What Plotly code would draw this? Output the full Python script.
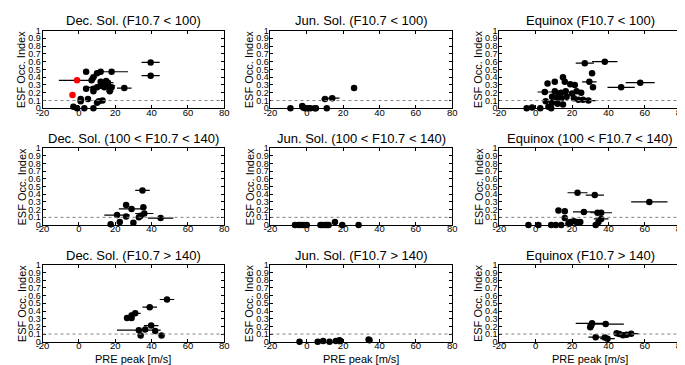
import plotly.graph_objects as go

# ---------------- data (PRE peak [m/s], ESF occurrence index, x error) ----------------
dec_lo_x = [39.5, 39.5, 4, 10, 12, 18, 7, 8, 12, 14, 15, 16, 16, 12, 10, 8, 4, 14, 18, 25, 17, 8, 1, 1, 5, 11, 13, 10, -3, -1, 3, 8]
dec_lo_y = [0.59, 0.42, 0.47, 0.45, 0.47, 0.47, 0.36, 0.40, 0.34, 0.30, 0.35, 0.33, 0.29, 0.29, 0.27, 0.25, 0.25, 0.27, 0.27, 0.26, 0.22, 0.22, 0.12, 0.09, 0.12, 0.09, 0.10, 0.07, 0.02, 0.0, 0.0, 0.0]
dec_lo_e = [5, 5, 0, 0, 0, 9, 0, 2, 0, 0, 0, 3, 4, 0, 5, 0, 0, 3, 0, 4, 2, 0, 0, 0, 0, 0, 0, 0, 0, 0, 0, 0]
dec_lo_red_x = [-1, -3.5]
dec_lo_red_y = [0.36, 0.17]
dec_lo_red_e = [10, 0]

jun_lo_x = [-9, -2.5, -2, -1, 0.5, 2, 4.5, 5, 11, 10, 14, 26]
jun_lo_y = [0.0, 0.03, 0.01, 0.0, 0.0, 0.0, 0.0, 0.0, 0.0, 0.12, 0.13, 0.26]
jun_lo_e = [0, 0, 0, 0, 0, 0, 0, 0, 0, 2, 4, 0.5]

equ_lo_x = [27, 38, 31, 29.5, 31.5, 47, 57.5, 15, 16, 10.5, 6.5, 19, 21.5, 5, 10.5, 12.5, 14, 16.5, 20, 22.5, 25, 9, 11.5, 14, 17, 21, 23.5, 26, 29, 5.5, 9, 12, 15, -5, -2, 2.5, 7, 8.5]
equ_lo_y = [0.58, 0.60, 0.45, 0.34, 0.27, 0.27, 0.33, 0.40, 0.34, 0.34, 0.32, 0.31, 0.30, 0.21, 0.22, 0.19, 0.20, 0.22, 0.19, 0.22, 0.20, 0.15, 0.14, 0.13, 0.15, 0.13, 0.11, 0.11, 0.10, 0.09, 0.07, 0.06, 0.05, 0.0, 0.01, 0.0, 0.02, 0.0]
equ_lo_e = [5, 7, 0, 4, 0, 7.5, 8, 0, 0, 0, 0, 0, 0, 4, 0, 0, 0, 0, 0, 0, 0, 0, 0, 0, 0, 0, 0, 0, 4, 0, 0, 0, 0, 0, 0, 0, 0, 0]

dec_md_x = [35, 26, 29, 35.5, 21, 26, 33, 34, 36, 45, 17.5, 22.5, 30]
dec_md_y = [0.45, 0.26, 0.21, 0.23, 0.13, 0.11, 0.10, 0.12, 0.15, 0.09, 0.01, 0.04, 0.03]
dec_md_e = [4, 0, 7, 0, 7, 0, 0, 0, 5, 7, 0, 0, 0]

jun_md_x = [-6.5, -4.5, -3, -1.5, 0, 7.5, 8.5, 10, 11, 12, 15.5, 19.5, 28.5]
jun_md_y = [0.0, 0.0, 0.0, 0.0, 0.0, 0.0, 0.0, 0.0, 0.0, 0.0, 0.04, 0.0, 0.0]
jun_md_e = [0, 0, 0, 0, 0, 0, 0, 0, 0, 0, 0, 0, 0]

equ_md_x = [23, 32.5, 62.5, 12.5, 16, 26.5, 34, 36, 16, 36, 21, 19, 22.5, 24.5, 34.5, 33, -4, 1.5, 8.5, 11, 14, 18]
equ_md_y = [0.42, 0.39, 0.30, 0.19, 0.18, 0.17, 0.16, 0.16, 0.09, 0.08, 0.05, 0.04, 0.04, 0.04, 0.04, 0.0, 0.0, 0.0, 0.0, 0.0, 0.0, 0.02]
equ_md_e = [5.5, 5, 10, 0, 0, 6, 0, 6, 0, 4, 0, 0, 0, 0, 0, 0, 0, 0, 0, 0, 0, 0]

dec_hi_x = [48.5, 39, 31, 29, 29, 26.5, 39.8, 36.5, 33, 42, 34, 45.5]
dec_hi_y = [0.55, 0.45, 0.37, 0.34, 0.31, 0.31, 0.21, 0.16, 0.15, 0.14, 0.08, 0.08]
dec_hi_e = [4, 4, 3, 0, 0, 0, 4, 0, 12, 0, 0, 0]

jun_hi_x = [-4, 6, 9, 12.5, 16, 18, 18.5, 34, 34.5]
jun_hi_y = [0.0, 0.0, 0.01, 0.0, 0.01, 0.02, 0.01, 0.03, 0.02]
jun_hi_e = [0, 0, 0, 0, 0, 0, 0, 0, 0]

equ_hi_x = [31, 38.5, 30, 30.5, 44.5, 46, 48, 50, 52.5, 33, 38, 39.5]
equ_hi_y = [0.24, 0.23, 0.19, 0.21, 0.11, 0.10, 0.085, 0.09, 0.105, 0.06, 0.055, 0.04]
equ_hi_e = [9, 10, 0, 0, 0, 0, 0, 0, 4, 4, 0, 4]

titles = ["Dec. Sol. (F10.7 < 100)", "Jun. Sol. (F10.7 < 100)", "Equinox (F10.7 < 100)",
          "Dec. Sol. (100 < F10.7 < 140)", "Jun. Sol. (100 < F10.7 < 140)", "Equinox (100 < F10.7 < 140)",
          "Dec. Sol. (F10.7 > 140)", "Jun. Sol. (F10.7 > 140)", "Equinox (F10.7 > 140)"]
x_ticks = [-20, 0, 20, 40, 60, 80]
x_tick_labels = ["-20", "0", "20", "40", "60", "80"]
y_ticks = [0, 0.1, 0.2, 0.3, 0.4, 0.5, 0.6, 0.7, 0.8, 0.9, 1]
y_tick_labels = ["0", "0.1", "0.2", "0.3", "0.4", "0.5", "0.6", "0.7", "0.8", "0.9", "1"]
threshold = 0.1
y_label = "ESF Occ. Index"
x_label = "PRE peak [m/s]"

panels = [
    (dec_lo_x, dec_lo_y, dec_lo_e), (jun_lo_x, jun_lo_y, jun_lo_e), (equ_lo_x, equ_lo_y, equ_lo_e),
    (dec_md_x, dec_md_y, dec_md_e), (jun_md_x, jun_md_y, jun_md_e), (equ_md_x, equ_md_y, equ_md_e),
    (dec_hi_x, dec_hi_y, dec_hi_e), (jun_hi_x, jun_hi_y, jun_hi_e), (equ_hi_x, equ_hi_y, equ_hi_e),
]

# ---------------- layout geometry (pixels) ----------------
W, H = 685, 365
cols = [(28, 213), (260, 445), (493, 678)]
rows = [(18, 98), (139, 218), (259, 338)]
FONT = "Liberation Sans, Arial, sans-serif"

fig = go.Figure()
layout = dict(width=W, height=H, margin=dict(l=0, r=0, t=0, b=0),
              paper_bgcolor="white", plot_bgcolor="white", showlegend=False,
              font=dict(family=FONT, color="black"))
annotations = []
shapes = []

def add_points(xs, ys, es, color, xa, ya):
    fig.add_trace(go.Scatter(
        x=xs, y=ys, mode="markers", xaxis=xa, yaxis=ya, cliponaxis=False,
        marker=dict(color=color, size=6.5, line=dict(width=0)),
        error_x=dict(type="data", array=es, visible=True, color="black", thickness=1.2, width=0),
    ))

for i, (xs, ys, es) in enumerate(panels):
    r, c = divmod(i, 3)
    x0, x1 = cols[c]
    y0, y1 = rows[r]
    sfx = "" if i == 0 else str(i + 1)
    xa, ya = "x" + sfx, "y" + sfx
    layout["xaxis" + sfx] = dict(
        domain=[x0 / W, x1 / W], anchor=ya, range=[-20, 80],
        tickvals=x_ticks, ticktext=x_tick_labels, ticks="inside", ticklen=3,
        ticklabelstandoff=-5,
        tickcolor="black", showline=True, linecolor="black", linewidth=1, mirror="ticks",
        showgrid=False, zeroline=False, tickfont=dict(size=9.5, family=FONT, color="black"))
    layout["yaxis" + sfx] = dict(
        domain=[1 - y1 / H, 1 - y0 / H], anchor=xa, range=[0, 1],
        tickvals=y_ticks, ticktext=y_tick_labels, ticks="inside", ticklen=3,
        ticklabelstandoff=-1,
        tickcolor="black", showline=True, linecolor="black", linewidth=1, mirror="ticks",
        showgrid=False, zeroline=False, tickfont=dict(size=9, family=FONT, color="black"))
    shapes.append(dict(type="line", xref=xa, yref=ya, x0=-20, x1=80, y0=threshold, y1=threshold,
                       line=dict(color="gray", width=1, dash="dot")))
    add_points(xs, ys, es, "black", xa, ya)
    if i == 0:
        add_points(dec_lo_red_x, dec_lo_red_y, dec_lo_red_e, "red", xa, ya)
    annotations.append(dict(text=titles[i], x=(x0 + x1) / 2 / W, y=1 - (y0 - 10) / H,
                            xref="paper", yref="paper", showarrow=False,
                            font=dict(size=13, family=FONT, color="black"),
                            xanchor="center", yanchor="middle"))
    annotations.append(dict(text=y_label, x=(x0 - 21) / W, y=1 - (y0 + y1) / 2 / H,
                            xref="paper", yref="paper", showarrow=False, textangle=-90,
                            font=dict(size=11, family=FONT, color="black"),
                            xanchor="center", yanchor="middle"))
    if r == 2:
        annotations.append(dict(text=x_label, x=(x0 + x1) / 2 / W, y=1 - 356 / H,
                                xref="paper", yref="paper", showarrow=False,
                                font=dict(size=11, family=FONT, color="black"),
                                xanchor="center", yanchor="middle"))

layout["annotations"] = annotations
layout["shapes"] = shapes
fig.update_layout(**layout)
fig.write_html("out.html")
